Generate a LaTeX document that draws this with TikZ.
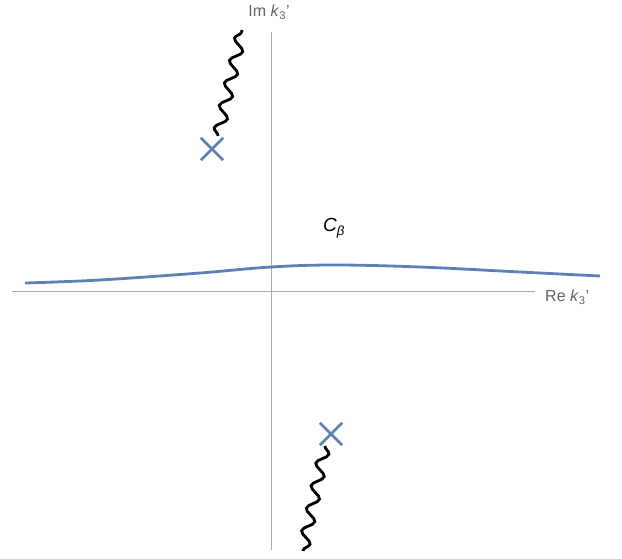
\documentclass[tikz,border=0pt]{standalone}
\usepackage{fontspec}
\setmainfont{Liberation Sans}
\usetikzlibrary{decorations.pathmorphing}
\definecolor{mblue}{RGB}{94,129,181}
\definecolor{axgray}{RGB}{170,170,170}
\definecolor{lblgray}{RGB}{100,100,100}
\begin{document}
\begin{tikzpicture}[x=1pt,y=-1pt,
  axis/.style={draw=axgray,line width=1pt},
  axlabel/.style={text=lblgray,font=\fontsize{16}{18}\selectfont,inner sep=0pt},
  polecross/.style={minimum size=22pt,inner sep=0pt},
  cut/.style={draw=black,line width=2.8pt,decorate,decoration={snake,segment length=23pt,amplitude=5.5pt}},
  contour/.style={draw=mblue,line width=2.8pt}]
\useasboundingbox (0,0) rectangle (622,559);
\coordinate (xl) at (12,292);
\coordinate (xr) at (535,292);
\coordinate (yt) at (271,32);
\coordinate (yb) at (271,550);
\draw[axis] (xl) -- (xr);
\draw[axis] (yb) -- (yt);
\node[axlabel,anchor=west] (relbl) at (545,297) {Re \textit{k}\textsubscript{3}'};
\node[axlabel,anchor=center] (imlbl) at (269,12) {Im \textit{k}\textsubscript{3}'};
\draw[contour] plot[smooth,tension=0.6] coordinates {(25,283) (100,280) (200,273) (271,267) (335,265) (420,267) (520,272) (600,276)};
\node (clbl) at (334,228) {\fontsize{19}{21}\selectfont\textit{C}\textsubscript{\textit{β}}};
\node[polecross] (p1) at (212,149) {};
\node[polecross] (p2) at (331,434) {};
\coordinate (c1) at (242,30);
\coordinate (c2) at (303,551);
\draw[cut] (218,136) -- (c1);
\draw[cut] (325,446) -- (c2);
\draw[mblue,line width=2.8pt] (p1.north west) -- (p1.south east) (p1.north east) -- (p1.south west);
\draw[mblue,line width=2.8pt] (p2.north west) -- (p2.south east) (p2.north east) -- (p2.south west);
\end{tikzpicture}
\end{document}
